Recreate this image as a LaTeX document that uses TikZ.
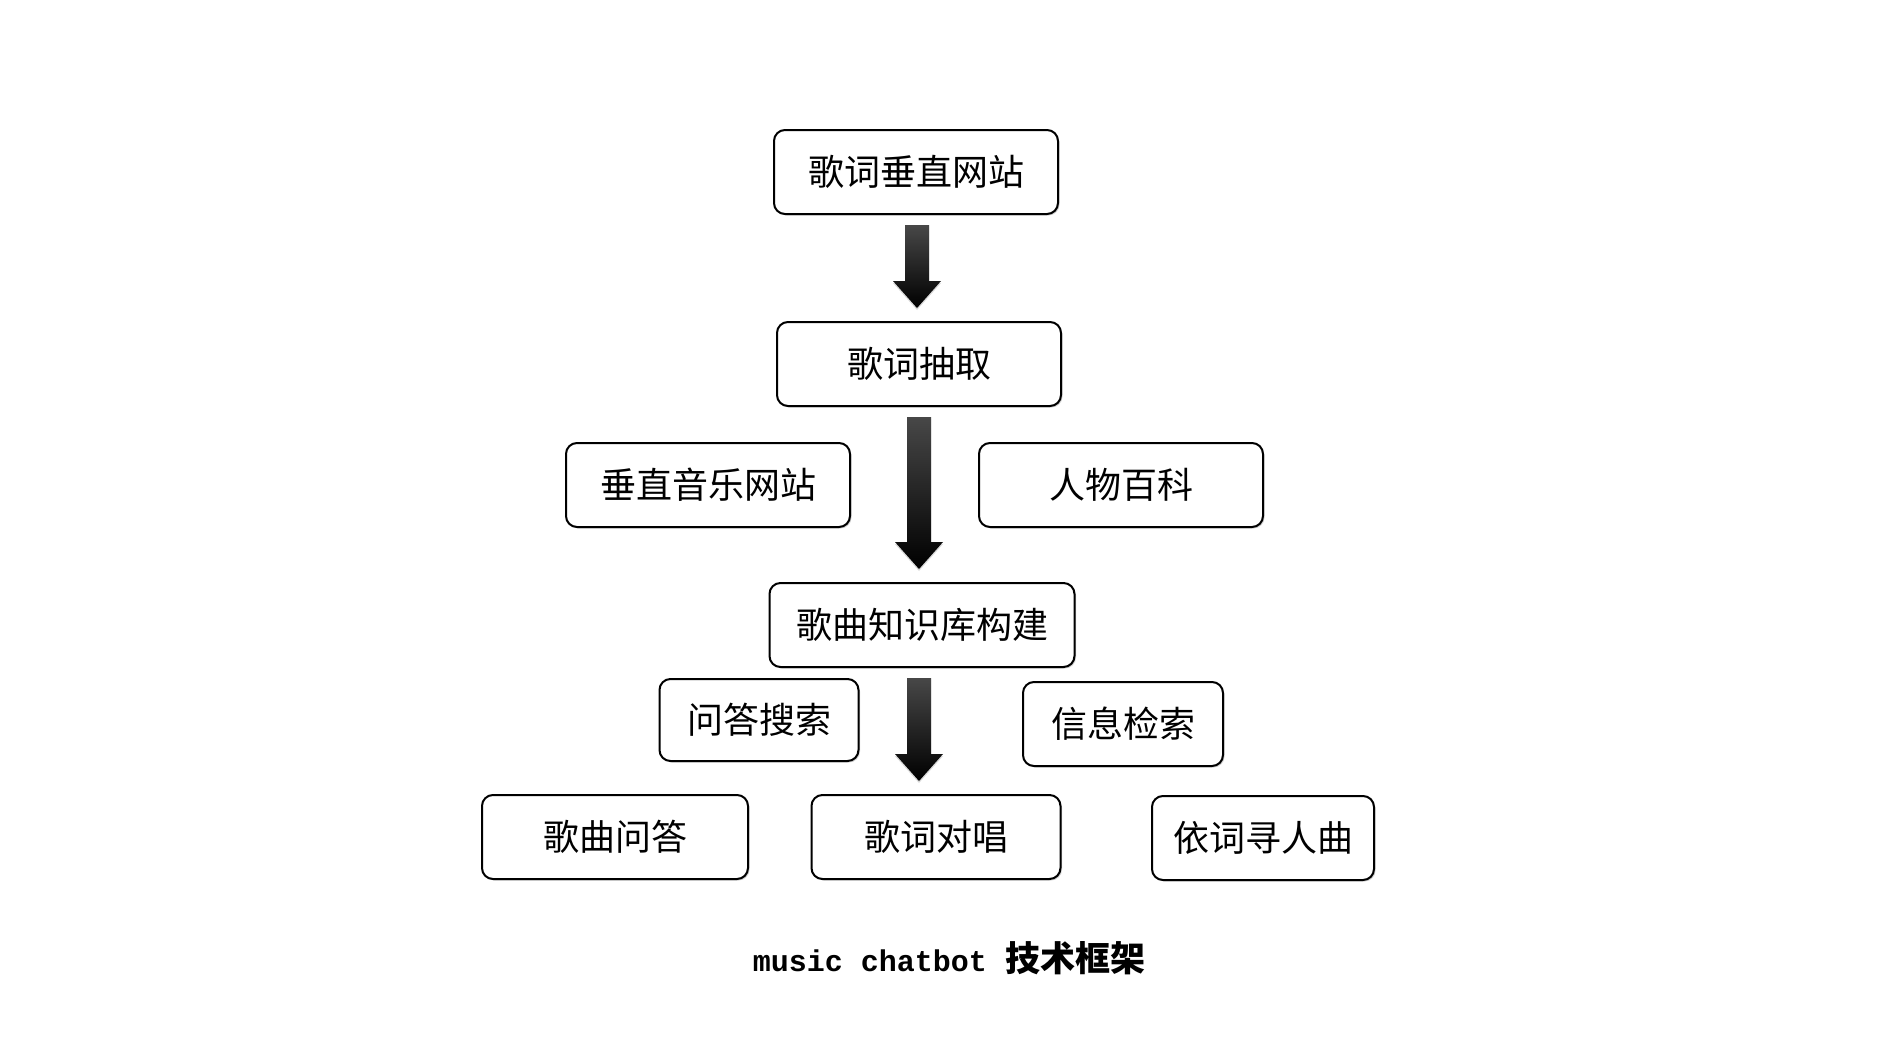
\documentclass[tikz,border=0pt]{standalone}
\usepackage{fontspec}
\newfontfamily\cjk{Noto Sans CJK SC}
\setmonofont{Liberation Mono}
\usetikzlibrary{shadows,calc}
\tikzset{
  box/.style={draw=black, line width=2pt, rounded corners=11pt, fill=white,
    minimum width=#1, minimum height=84pt, inner sep=0pt,
    font=\cjk\fontsize{36}{40}\selectfont,
    drop shadow={shadow xshift=1.5pt, shadow yshift=-1.5pt, opacity=0.35}},
  arrowsh/.style={top color=black!72, bottom color=black,
    drop shadow={shadow xshift=0pt, shadow yshift=-2pt, opacity=0.3}},
}
\newcommand\fatarr[3]{%
  \shade[arrowsh] let \p1=(#1.south), \p2=(#2.north) in
    (#3pt-12pt,\y1-10pt) -- (#3pt+12pt,\y1-10pt) -- (#3pt+12pt,\y2+40pt)
    -- (#3pt+24pt,\y2+40pt) -- (#3pt,\y2+13pt) -- (#3pt-24pt,\y2+40pt)
    -- (#3pt-12pt,\y2+40pt) -- cycle;}
\begin{document}
\begin{tikzpicture}[x=1pt,y=-1pt]
\useasboundingbox[fill=white] (0,0) rectangle (1877,1049);
\node[box=284pt] (b1) at (916,172) {歌词垂直网站};
\node[box=284pt] (b2) at (919,364) {歌词抽取};
\node[box=284pt] (b3) at (708,485) {垂直音乐网站};
\node[box=284pt] (b4) at (1121,485) {人物百科};
\node[box=305pt] (b5) at (922,625) {歌曲知识库构建};
\node[box=199pt, minimum height=82pt] (b6) at (759,720) {问答搜索};
\node[box=200pt] (b7) at (1123,724) {信息检索};
\node[box=266pt] (b8) at (615,837) {歌曲问答};
\node[box=249pt] (b9) at (936,837) {歌词对唱};
\node[box=222pt] (b10) at (1263,838) {依词寻人曲};
\fatarr{b1}{b2}{917}
\fatarr{b2}{b5}{919}
\fatarr{b5}{b9}{919}
\node (cap) at (949,958) {\ttfamily\bfseries\fontsize{30}{36}\selectfont music chatbot \cjk\fontsize{35}{36}\selectfont 技术框架};
\end{tikzpicture}
\end{document}
